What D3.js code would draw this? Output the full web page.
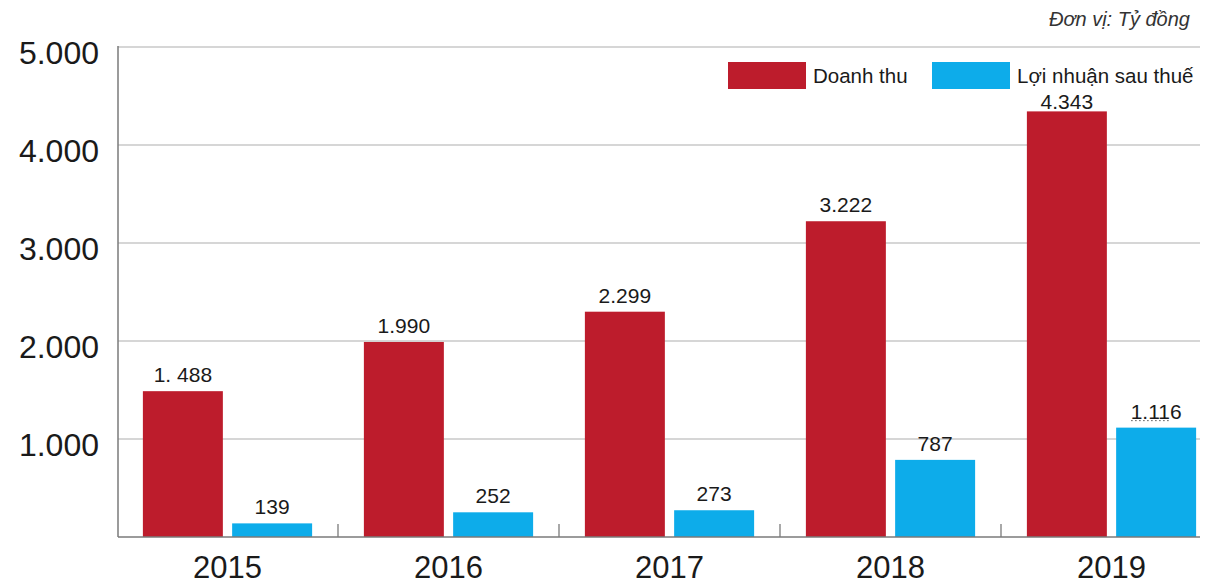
<!DOCTYPE html>
<html>
<head>
<meta charset="utf-8">
<script src="https://cdn.jsdelivr.net/npm/d3@7"></script>
<style>
  html, body { margin: 0; padding: 0; background: #fff; }
  svg { display: block; font-family: "Liberation Sans", Arial, sans-serif; }
</style>
</head>
<body>
<svg id="chart" width="1217" height="585"></svg>
<script>
const years = ["2015", "2016", "2017", "2018", "2019"];
const revenue = [1488, 1990, 2299, 3222, 4343];
const profit = [139, 252, 273, 787, 1116];
const revenueLabels = ["1. 488", "1.990", "2.299", "3.222", "4.343"];
const profitLabels = ["139", "252", "273", "787", "1.116"];
const yTicks = [1000, 2000, 3000, 4000, 5000];
const yTickLabels = ["1.000", "2.000", "3.000", "4.000", "5.000"];
const seriesNames = ["Doanh thu", "Lợi nhuận sau thuế"];
const colors = ["#BD1C2C", "#0DACEA"];
const unitText = "Đơn vị: Tỷ đồng";

const svg = d3.select("#chart");
const left = 118, right = 1200, baseY = 537, topY = 47;

const y = d3.scaleLinear().domain([0, 5000]).range([baseY, topY]);
const x0 = d3.scaleBand().domain(years).range([117, 1222]).paddingInner(0).paddingOuter(0);
const x1 = d3.scaleBand().domain([0, 1]).range([0, x0.bandwidth()]).paddingInner(0.104).paddingOuter(0.29);

// gridlines
svg.append("g").selectAll("line").data(yTicks).join("line")
  .attr("x1", left).attr("x2", right)
  .attr("y1", d => y(d)).attr("y2", d => y(d))
  .attr("stroke", "#c9c9c9").attr("stroke-width", 1.3);

// y tick labels
svg.append("g").selectAll("text").data(yTicks).join("text")
  .attr("x", 99).attr("y", d => y(d) + 17)
  .attr("text-anchor", "end")
  .attr("font-size", 32).attr("fill", "#1a1a1a")
  .text((d, i) => yTickLabels[i]);

// bars
const groups = svg.append("g").selectAll("g").data(years).join("g")
  .attr("transform", d => `translate(${x0(d)},0)`);

const seriesData = [revenue, profit];
const seriesLabels = [revenueLabels, profitLabels];

groups.each(function(yr, i) {
  const g = d3.select(this);
  [0, 1].forEach(s => {
    const v = seriesData[s][i];
    g.append("rect")
      .attr("x", x1(s)).attr("width", x1.bandwidth())
      .attr("y", y(v)).attr("height", baseY - y(v))
      .attr("fill", colors[s]);
    g.append("text")
      .attr("x", x1(s) + x1.bandwidth() / 2)
      .attr("y", Math.max(y(v) - 9, 109))
      .attr("text-anchor", "middle")
      .attr("font-size", 21).attr("fill", "#1a1a1a")
      .text(seriesLabels[s][i]);
  });
});

// dotted underline on last profit label (as in reference)
{
  const i = years.length - 1;
  const cx = x0(years[i]) + x1(1) + x1.bandwidth() / 2;
  const ly = y(profit[i]) - 7;
  svg.append("line")
    .attr("x1", cx - 25).attr("x2", cx + 15)
    .attr("y1", ly).attr("y2", ly)
    .attr("stroke", "#555").attr("stroke-width", 1)
    .attr("stroke-dasharray", "1.5,2.5");
}

// axes lines
svg.append("line").attr("x1", left).attr("x2", left).attr("y1", topY - 1).attr("y2", baseY)
  .attr("stroke", "#7a7a7a").attr("stroke-width", 1.5);
svg.append("line").attr("x1", left).attr("x2", right).attr("y1", baseY).attr("y2", baseY)
  .attr("stroke", "#7a7a7a").attr("stroke-width", 1.5);

// category separator ticks
svg.append("g").selectAll("line").data(years.slice(1)).join("line")
  .attr("x1", d => x0(d)).attr("x2", d => x0(d))
  .attr("y1", baseY - 13).attr("y2", baseY)
  .attr("stroke", "#7a7a7a").attr("stroke-width", 1.3);

// x labels
svg.append("g").selectAll("text").data(years).join("text")
  .attr("x", d => x0(d) + x1(0) + (x1(1) + x1.bandwidth() - x1(0)) / 2)
  .attr("y", 578)
  .attr("text-anchor", "middle")
  .attr("font-size", 31).attr("fill", "#1a1a1a")
  .text(d => d);

// legend
const legendX = [728, 932];
seriesNames.forEach((name, s) => {
  svg.append("rect").attr("x", legendX[s]).attr("y", 62).attr("width", 78).attr("height", 27)
    .attr("fill", colors[s]);
  svg.append("text").attr("x", legendX[s] + 85).attr("y", 83)
    .attr("font-size", 20.5).attr("fill", "#1a1a1a").text(name);
});

// unit
svg.append("text").attr("x", 1190).attr("y", 26)
  .attr("text-anchor", "end").attr("font-size", 20).attr("font-style", "italic")
  .attr("fill", "#333").text(unitText);
</script>
</body>
</html>
